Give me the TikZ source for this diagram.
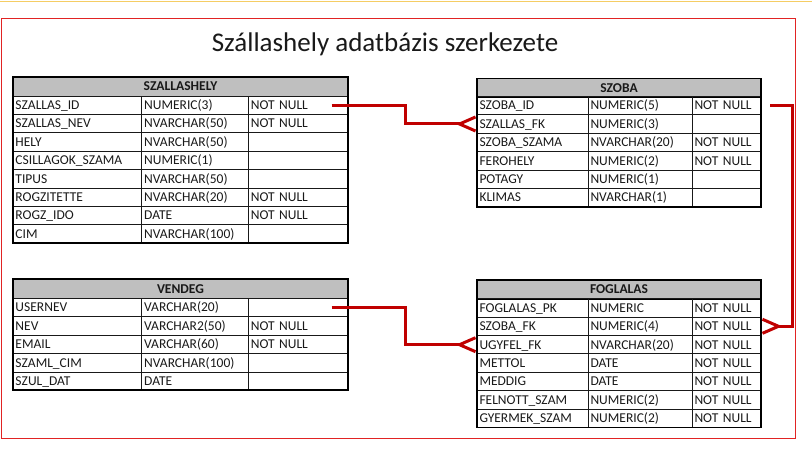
\documentclass[tikz,border=0pt]{standalone}
\usepackage{fontspec}
\setmainfont{Carlito}
\usetikzlibrary{positioning,calc,arrows.meta}

\definecolor{sotetpiros}{RGB}{192,0,0}
\definecolor{keretpiros}{RGB}{225,35,35}
\definecolor{fejszurke}{RGB}{191,191,191}
\definecolor{sarga}{RGB}{245,205,100}

\tikzset{
  fej/.style={draw=black, fill=fejszurke, anchor=north west, minimum height=19, inner sep=0pt, outer sep=0pt,
    font=\bfseries\fontsize{13.5}{14}\selectfont, text=black!90, text height=8.7pt, text depth=0pt},
  cella/.style={draw=black!90, line width=0.8pt, minimum height=18.4, inner xsep=2.5pt, inner ysep=0pt, outer sep=0pt,
    align=left, font=\fontsize{13.5}{14}\selectfont, text=black!90, text height=8.7pt, text depth=0pt},
  oszlop/.style={cella, text width=#1},
  keret/.style={draw=black, line width=1.9pt},
  nyil/.style={draw=sotetpiros, line width=3pt, -{Straight Barb[reversed, length=16pt, width=14pt]}},
}

\begin{document}
\begin{tikzpicture}[x=1pt, y=-1pt]
\useasboundingbox (0,0) rectangle (812,449);
\draw[sarga, line width=0.8pt] (0,1.5) -- (812,1.5);
\draw[keretpiros, line width=1pt] (1.5,18.6) rectangle (795,438);

\node[font=\fontsize{27}{30}\selectfont, text=black!90, anchor=base] (cim) at (385,52) {Szállashely adatbázis szerkezete};

% SZALLASHELY
\node[fej, minimum width=335] (szh) at (13,77) {SZALLASHELY};
\foreach \nev/\tipus/\megk [count=\i] in {SZALLAS\_ID/NUMERIC(3)/NOT NULL, SZALLAS\_NEV/NVARCHAR(50)/NOT NULL,
    HELY/NVARCHAR(50)/{}, CSILLAGOK\_SZAMA/NUMERIC(1)/{}, TIPUS/NVARCHAR(50)/{},
    ROGZITETTE/NVARCHAR(20)/NOT NULL, ROGZ\_IDO/DATE/NOT NULL, CIM/NVARCHAR(100)/{}}
{
  \node[oszlop=123.7pt, anchor=north west] (szh-\i-a) at (13,{77.6+18.4*\i}) {\nev};
  \node[oszlop=101.6pt, right=0pt of szh-\i-a] (szh-\i-b) {\tipus};
  \node[oszlop=94.7pt, right=0pt of szh-\i-b] (szh-\i-c) {\megk};
}
\draw[keret] (szh.north west) rectangle (szh-8-c.south east);

% SZOBA
\node[fej, minimum width=284] (szb) at (477,78.5) {SZOBA};
\foreach \nev/\tipus/\megk [count=\i] in {SZOBA\_ID/NUMERIC(5)/NOT NULL, SZALLAS\_FK/NUMERIC(3)/{},
    SZOBA\_SZAMA/NVARCHAR(20)/NOT NULL, FEROHELY/NUMERIC(2)/NOT NULL,
    POTAGY/NUMERIC(1)/{}, KLIMAS/NVARCHAR(1)/{}}
{
  \node[oszlop=106pt, anchor=north west] (szb-\i-a) at (477,{78+18.4*\i}) {\nev};
  \node[oszlop=99pt, right=0pt of szb-\i-a] (szb-\i-b) {\tipus};
  \node[oszlop=64pt, right=0pt of szb-\i-b] (szb-\i-c) {\megk};
}
\draw[keret] (szb.north west) rectangle (szb-6-c.south east);

% VENDEG
\node[fej, minimum width=335] (vnd) at (13,279.3) {VENDEG};
\foreach \nev/\tipus/\megk [count=\i] in {USERNEV/VARCHAR(20)/{}, NEV/VARCHAR2(50)/NOT NULL,
    EMAIL/VARCHAR(60)/NOT NULL, SZAML\_CIM/NVARCHAR(100)/{}, SZUL\_DAT/DATE/{}}
{
  \node[oszlop=123.7pt, anchor=north west] (vnd-\i-a) at (13,{279.9+18.4*\i}) {\nev};
  \node[oszlop=101.6pt, right=0pt of vnd-\i-a] (vnd-\i-b) {\tipus};
  \node[oszlop=94.7pt, right=0pt of vnd-\i-b] (vnd-\i-c) {\megk};
}
\draw[keret] (vnd.north west) rectangle (vnd-5-c.south east);

% FOGLALAS
\node[fej, minimum width=284] (fog) at (477,280) {FOGLALAS};
\foreach \nev/\tipus/\megk [count=\i] in {FOGLALAS\_PK/NUMERIC/NOT NULL, SZOBA\_FK/NUMERIC(4)/NOT NULL,
    UGYFEL\_FK/NVARCHAR(20)/NOT NULL, METTOL/DATE/NOT NULL, MEDDIG/DATE/NOT NULL,
    FELNOTT\_SZAM/NUMERIC(2)/NOT NULL, GYERMEK\_SZAM/NUMERIC(2)/NOT NULL}
{
  \node[oszlop=106pt, anchor=north west] (fog-\i-a) at (477,{280.3+18.4*\i}) {\nev};
  \node[oszlop=99pt, right=0pt of fog-\i-a] (fog-\i-b) {\tipus};
  \node[oszlop=64pt, right=0pt of fog-\i-b] (fog-\i-c) {\megk};
}
\draw[keret] (fog.north west) rectangle (fog-7-c.south east);

% kapcsolatok
\coordinate (szh-ki) at ($(szh-1-c.east)+(-16.5,0)$);
\coordinate (szb-ki) at ($(szb-1-c.east)+(9,0)$);
\coordinate (vnd-ki) at ($(vnd-1-c.east)+(-16.5,0)$);
\draw[nyil] (szh-ki) -- ++(73.5,0) |- (szb-2-a.west);
\draw[nyil] (szb-ki) -- ++(22,0) |- (fog-2-c.east);
\draw[nyil] (vnd-ki) -- ++(73.5,0) |- (fog-3-a.west);
\end{tikzpicture}
\end{document}
